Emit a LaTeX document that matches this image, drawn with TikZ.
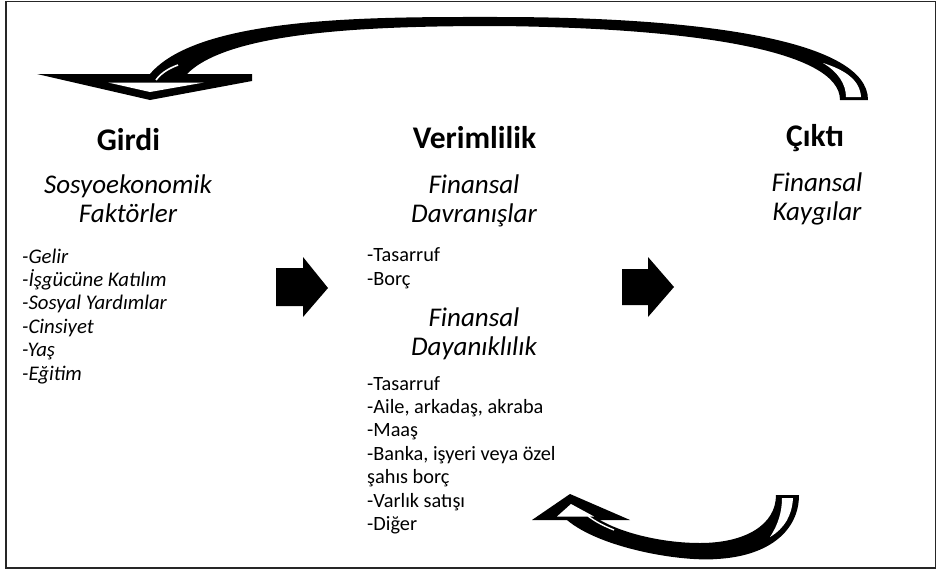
\documentclass[tikz,border=0pt]{standalone}
\usepackage{fontspec}
\setmainfont{Carlito}
\begin{document}
\begin{tikzpicture}[x=1pt,y=-1pt,
  title/.style={font=\fontsize{31.5}{34}\selectfont\bfseries, anchor=base, inner sep=0pt},
  sub/.style={font=\fontsize{27}{28.5}\selectfont\itshape, align=center, anchor=base, inner sep=0pt},
  lst/.style={font=\fontsize{20.3}{23.4}\selectfont, align=left, anchor=base west, inner sep=0pt},
  blk/.style={fill=black, draw=none}]
\useasboundingbox (0,0) rectangle (937,570);
\draw[line width=1.2pt, black!85] (6,1.5) rectangle (935.5,568);

% titles
\node[title] (girdi) at (128.5,150) {Girdi};
\node[title] (verim) at (474.5,148) {Verimlilik};
\node[title] (cikti) at (815,146) {Çıktı};

% subtitles (anchor = baseline of last line)
\node[sub] (sosyo) at (128,222) {Sosyoekonomik\\Faktörler};
\node[sub] (davr) at (474,222) {Finansal\\Davranışlar};
\node[sub] (kayg) at (817,220) {Finansal\\Kaygılar};
\node[sub] (daya) at (474,355) {Finansal\\Dayanıklılık};

% lists (anchor = baseline of last line)
\node[lst, font=\fontsize{20.8}{23.4}\selectfont\itshape] (l1) at (22,380) {-Gelir\\-İşgücüne Katılım\\-Sosyal Yardımlar\\-Cinsiyet\\-Yaş\\-Eğitim};
\node[lst] (l2) at (367,285) {-Tasarruf\\-Borç};
\node[lst] (l3) at (367,530.4) {-Tasarruf\\-Aile, arkadaş, akraba\\-Maaş\\-Banka, işyeri veya özel\\şahıs borç\\-Varlık satışı\\-Diğer};

% block arrows
\fill[blk] (276,268) -- (303,268) -- (303,257) -- (328,288) -- (303,317) -- (303,306) -- (276,306) -- cycle;
\fill[blk] (622,269) -- (648,269) -- (648,257) -- (674,287) -- (648,317) -- (648,305) -- (622,305) -- cycle;

% top curved arrow
\fill[black] (150,74) .. controls (200,15) and (380,17) .. (498,17)
  .. controls (700,17) and (868,40) .. (868,100) -- (840,100)
  .. controls (840,50) and (690,28) .. (498,26)
  .. controls (380,26) and (230,30) .. (187,74) -- cycle;
\fill[black] (37,74) -- (252,74) -- (252,81) -- (150,100) -- cycle;
\fill[white] (108,82.5) -- (204,82.5) -- (150,92) -- cycle;
\draw[white, line width=1.6pt] (156,80) .. controls (162,72) and (170,68) .. (178,65);
\fill[white] (846,97) -- (861,97) .. controls (860,80) and (845,70) .. (823,63)
  .. controls (838,72) and (846,84) .. (846,97) -- cycle;

% bottom curved arrow
\fill[black] (567,520) .. controls (600,548) and (680,562) .. (717,559)
  .. controls (770,556) and (799,530) .. (799,495) -- (776,495)
  .. controls (776,525) and (745,543) .. (700,543)
  .. controls (660,543) and (620,532) .. (600,520) -- cycle;
\fill[black] (532,520) -- (570,494) -- (630,520) -- cycle;
\fill[white] (557,516.5) -- (571,504) -- (594,516.5) -- cycle;
\draw[white, line width=1.4pt] (588,516) .. controls (596,522) and (604,526) .. (614,530);
\fill[white] (782,498) -- (793,498) .. controls (792,515) and (785,528) .. (770,537)
  .. controls (778,525) and (782,512) .. (782,498) -- cycle;
\end{tikzpicture}
\end{document}
